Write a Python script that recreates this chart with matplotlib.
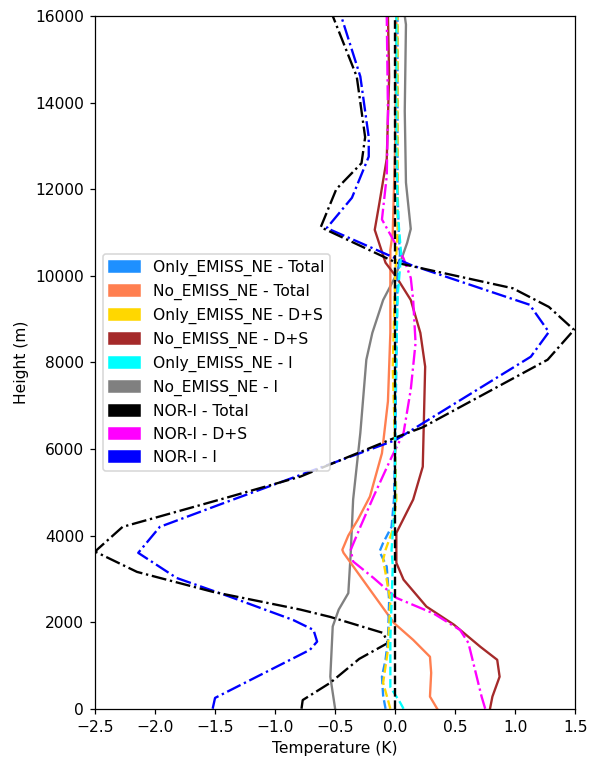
import matplotlib.pyplot as plt
from matplotlib.patches import Patch

# NOR-I profiles (dash-dot)
h_nor_total = [0, 200, 600, 1150, 1520, 1750, 2120, 2290, 2700, 3160, 3630, 4200, 4830, 5360, 6260, 6500, 8060, 8750, 9280, 9710, 10300, 11120, 12000, 12600, 13200, 14600, 16000]
t_nor_total = [-0.78, -0.77, -0.54, -0.3, -0.06, -0.1, -0.54, -0.79, -1.52, -2.15, -2.5, -2.27, -1.46, -0.79, 0.0, 0.23, 1.27, 1.49, 1.28, 0.98, 0.01, -0.62, -0.49, -0.28, -0.25, -0.32, -0.52]

h_nor_i = [0, 250, 1360, 1550, 1820, 2050, 2590, 3020, 3600, 4200, 4830, 6200, 8130, 8700, 9330, 10250, 11100, 11800, 12750, 13200, 14600, 16000]
t_nor_i = [-1.52, -1.5, -0.71, -0.65, -0.68, -0.85, -1.38, -1.82, -2.14, -1.96, -1.35, 0.0, 1.13, 1.28, 1.12, 0.13, -0.57, -0.36, -0.22, -0.22, -0.29, -0.45]

h_nor_ds = [0, 280, 1520, 1820, 2200, 2560, 3020, 3400, 3670, 4200, 4900, 5750, 6370, 7370, 8450, 9440, 9950, 10400, 10800, 11300, 12300, 13800, 16000]
t_nor_ds = [0.75, 0.72, 0.61, 0.54, 0.32, 0.01, -0.18, -0.35, -0.37, -0.29, -0.18, -0.04, 0.07, 0.13, 0.17, 0.15, 0.13, 0.07, -0.01, -0.11, -0.07, -0.06, -0.07]

# No_EMISS_NE profiles (solid)
h_no_ds = [0, 280, 740, 1130, 1430, 1940, 2360, 2980, 3370, 4060, 4830, 5590, 7900, 8680, 9440, 9970, 10300, 11060, 11700, 12700, 14600, 16000]
t_no_ds = [0.79, 0.81, 0.87, 0.85, 0.71, 0.49, 0.26, 0.07, 0.01, 0.01, 0.15, 0.23, 0.25, 0.21, 0.13, 0.01, -0.08, -0.17, -0.13, -0.07, -0.05, -0.06]

h_no_i = [0, 740, 1900, 2290, 2670, 3600, 4830, 6370, 8060, 8680, 9440, 9970, 10760, 11080, 12150, 13800, 15800, 16000]
t_no_i = [-0.5, -0.54, -0.52, -0.47, -0.39, -0.37, -0.35, -0.29, -0.24, -0.19, -0.1, 0.0, 0.1, 0.13, 0.09, 0.08, 0.09, 0.08]

h_no_total = [0, 280, 830, 1200, 1590, 1980, 2750, 3600, 3670, 4000, 4370, 4900, 5900, 7100, 8680, 10600, 11000, 13000, 16000]
t_no_total = [0.35, 0.29, 0.3, 0.29, 0.15, -0.01, -0.21, -0.43, -0.44, -0.39, -0.31, -0.21, -0.11, -0.06, -0.04, -0.04, -0.02, 0.0, 0.01]

# Only_EMISS_NE profiles (dashed)
h_only_total = [0, 300, 740, 1130, 1590, 2500, 3280, 3630, 3830, 4200, 4830, 6000, 8000, 10000, 10500, 11000, 12000, 14000, 16000]
t_only_total = [-0.08, -0.1, -0.11, -0.08, -0.06, -0.05, -0.07, -0.13, -0.1, -0.03, -0.01, 0.0, 0.01, 0.02, 0.04, 0.03, 0.02, 0.02, 0.02]

h_only_ds = [0, 600, 1360, 2500, 3440, 3670, 4130, 4830, 6000, 7900, 10000, 11000, 13000, 16000]
t_only_ds = [-0.04, -0.1, -0.06, -0.04, -0.1, -0.08, -0.02, 0.01, 0.0, -0.02, 0.0, 0.02, 0.02, 0.02]

h_only_i = [0, 150, 500, 1600, 3300, 3670, 4830, 7000, 9500, 10500, 11500, 13000, 16000]
t_only_i = [0.07, 0.04, -0.04, -0.04, -0.02, -0.03, 0.0, 0.0, 0.02, 0.05, 0.02, 0.01, 0.01]

labels = ['Only_EMISS_NE - Total', 'No_EMISS_NE - Total', 'Only_EMISS_NE - D+S',
          'No_EMISS_NE - D+S', 'Only_EMISS_NE - I', 'No_EMISS_NE - I',
          'NOR-I - Total', 'NOR-I - D+S', 'NOR-I - I']
colors = ['dodgerblue', 'coral', 'gold', 'brown', 'cyan', 'gray', 'black', 'magenta', 'blue']

fig, ax = plt.subplots(figsize=(590 / 112, 758 / 112), dpi=112)
fig.subplots_adjust(left=0.161, right=0.975, top=0.979, bottom=0.065)

ax.plot(t_no_i, h_no_i, color='gray', lw=1.5)
ax.plot(t_no_total, h_no_total, color='coral', lw=1.5)
ax.plot(t_no_ds, h_no_ds, color='brown', lw=1.5)
ax.plot(t_nor_ds, h_nor_ds, color='magenta', lw=1.5, ls='-.')
ax.plot(t_nor_i, h_nor_i, color='blue', lw=1.5, ls='-.')
ax.plot(t_nor_total, h_nor_total, color='black', lw=1.5, ls='-.')
ax.plot(t_only_total, h_only_total, color='dodgerblue', lw=1.5, ls='--')
ax.plot(t_only_ds, h_only_ds, color='gold', lw=1.5, ls='--')
ax.plot(t_only_i, h_only_i, color='cyan', lw=1.5, ls='--')
ax.plot([0, 0], [0, 16000], color='black', lw=1.5, ls='--')

ax.set_xlim(-2.5, 1.5)
ax.set_ylim(0, 16000)
ax.set_xlabel('Temperature (K)')
ax.set_ylabel('Height (m)')

handles = [Patch(color=c, label=l) for c, l in zip(colors, labels)]
ax.legend(handles=handles, loc='center left')

plt.savefig('out.png')
